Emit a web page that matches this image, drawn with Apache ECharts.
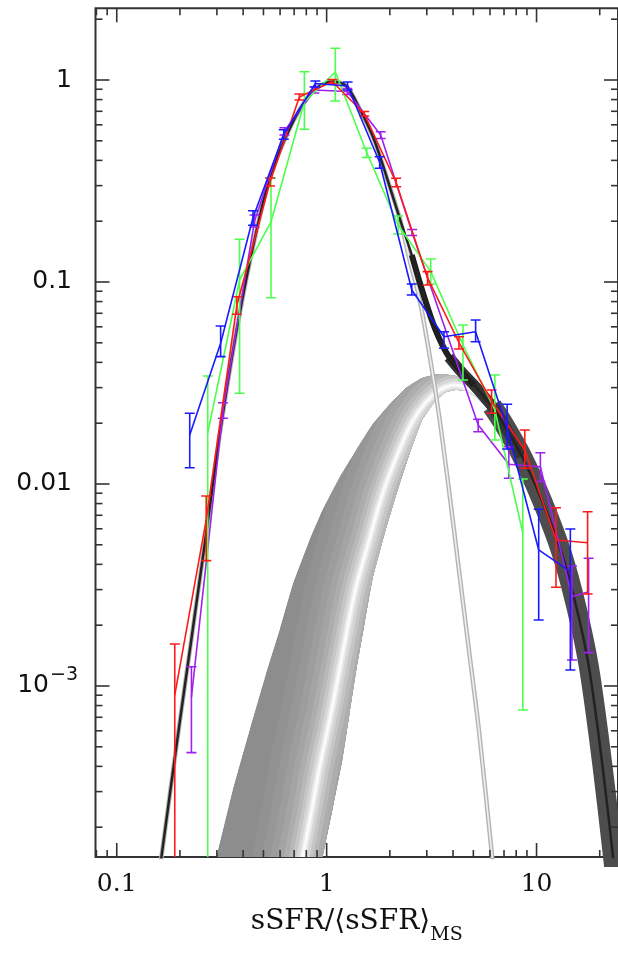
<!DOCTYPE html>
<html><head><meta charset="utf-8">
<script src="https://cdn.jsdelivr.net/npm/echarts@6/dist/echarts.min.js"></script>
<style>html,body{margin:0;padding:0;background:#fff}#c{width:618px;height:965px}</style>
</head><body><div id="c"></div>
<script>
// ---- tick values / labels ----
const xMajorTicks = [0.1, 1, 10];
const xMajorLabels = ['0.1', '1', '10'];
const xMinorTicks = [0.08, 0.09, 0.2, 0.3, 0.4, 0.5, 0.6, 0.7, 0.8, 0.9, 2, 3, 4, 5, 6, 7, 8, 9, 20];
const yMajorTicks = [1, 0.1, 0.01, 0.001];
const yMajorLabels = ['1', '0.1', '0.01', '10^\u22123'];
const yMinorTicks = [2e-4, 3e-4, 4e-4, 5e-4, 6e-4, 7e-4, 8e-4, 9e-4,
  0.002, 0.003, 0.004, 0.005, 0.006, 0.007, 0.008, 0.009,
  0.02, 0.03, 0.04, 0.05, 0.06, 0.07, 0.08, 0.09,
  0.2, 0.3, 0.4, 0.5, 0.6, 0.7, 0.8, 0.9, 2];

// ---- data samples (with error bars) ----
const blueX  = [0.2227, 0.3126, 0.4461, 0.6249, 0.8837, 1.258, 1.789, 2.545, 3.624, 5.126, 7.243, 10.24, 14.49];
const blueY  = [0.01748, 0.04971, 0.2086, 0.5373, 0.9609, 0.9339, 0.3905, 0.09129, 0.05359, 0.05675, 0.01893, 0.004714, 0.003679];
const blueHi = [0.02239, 0.06057, 0.2254, 0.5675, 0.9887, 0.9775, 0.4172, 0.09775, 0.05675, 0.06483, 0.02481, 0.007494, 0.005986];
const blueLo = [0.01204, 0.0427, 0.1911, 0.5086, 0.9233, 0.8923, 0.3655, 0.08624, 0.04696, 0.05062, 0.01491, 0.002121, 0.0012];

const redX  = [0.189, 0.2668, 0.3736, 0.5372, 0.7417, 1.064, 1.51, 2.143, 3.026, 4.269, 6.107, 8.79, 12.38, 17.51];
const redY  = [0.000902, 0.006636, 0.07692, 0.3126, 0.8237, 0.983, 0.6802, 0.3109, 0.1047, 0.05016, 0.02576, 0.01473, 0.005283, 0.005122];
const redHi = [0.001614, 0.008723, 0.08458, 0.3272, 0.8525, 1.006, 0.6983, 0.3261, 0.1125, 0.05359, 0.0292, 0.01851, 0.007631, 0.007292];
const redLo = [0.0001, 0.004173, 0.0692, 0.2987, 0.7962, 0.9554, 0.6633, 0.2963, 0.09663, 0.04659, 0.02239, 0.01196, 0.003081, 0.002853];

const purpleX  = [0.2269, 0.3206, 0.4534, 0.6296, 0.8741, 1.254, 1.809, 2.554, 5.274, 7.379, 10.43, 14.75, 17.7];
const purpleY  = [0.000882, 0.02311, 0.2004, 0.5593, 0.8923, 0.8771, 0.5341, 0.1758, 0.01959, 0.01252, 0.01218, 0.002767, 0.002929];
const purpleHi = [0.001246, 0.02526, 0.2147, 0.5806, 0.9233, 0.9077, 0.5546, 0.1819, 0.02091, 0.0153, 0.01429, 0.003928, 0.004287];
const purpleLo = [0.000468, 0.02114, 0.1872, 0.5341, 0.8623, 0.8479, 0.5133, 0.1699, 0.01815, 0.01067, 0.01027, 0.001345, 0.001462];

const greenX  = [0.2713, 0.3848, 0.5431, 0.7834, 1.1, 1.552, 2.191, 3.133, 4.461, 6.33, 8.6];
const greenY  = [0.01789, 0.1023, 0.1982, 0.7807, 1.095, 0.4377, 0.1915, 0.1125, 0.04876, 0.02324, 0.005721];
const greenHi = [0.03425, 0.1627, 0.3261, 1.099, 1.435, 0.4591, 0.2122, 0.13, 0.06124, 0.03464, 0.01059];
const greenLo = [0.0001, 0.02812, 0.08363, 0.5701, 0.787, 0.4134, 0.1728, 0.09775, 0.03272, 0.01651, 0.000761];

// ---- model curves ----
const totalX = [0.156, 0.1789, 0.1996, 0.2227, 0.2484, 0.2772, 0.3068, 0.3487, 0.3977, 0.4585, 0.5343, 0.6295, 0.7417, 0.8837, 1.064, 1.24, 1.43, 1.685, 1.986, 2.256, 2.545, 2.809, 3.133, 3.43, 3.827, 4.35, 5.032, 6.128, 6.834, 8.505, 10.59, 13.17, 15.52, 17.7, 19.75, 21.56, 23.52];
const totalY = [1.0e-4, 2.886e-4, 6.633e-4, 1.49e-3, 3.348e-3, 7.605e-3, 0.01651, 0.03882, 0.0833, 0.1709, 0.3272, 0.5047, 0.7103, 0.9026, 0.983, 0.9339, 0.7267, 0.5047, 0.3021, 0.1982, 0.136, 0.09555, 0.06709, 0.05282, 0.04254, 0.03625, 0.03091, 0.02432, 0.02051, 0.01376, 0.008331, 0.004553, 0.002432, 0.001271, 0.000572, 0.0002727, 0.0001228];

const msX = [0.156, 0.1789, 0.1996, 0.2227, 0.2484, 0.2772, 0.3068, 0.3487, 0.3977, 0.4585, 0.5343, 0.6295, 0.7417, 0.8837, 1.064, 1.24, 1.43, 1.685, 1.986, 2.256, 2.471, 2.757, 3.075, 3.43, 3.827, 4.269, 4.763, 5.314, 6.147, 6.33];
const msY = [1.0e-4, 2.886e-4, 6.633e-4, 1.49e-3, 3.348e-3, 7.605e-3, 0.01651, 0.03882, 0.0833, 0.1709, 0.3272, 0.5047, 0.7103, 0.9026, 0.983, 0.9339, 0.7267, 0.5047, 0.3021, 0.1982, 0.1315, 0.08428, 0.04502, 0.02196, 0.00934, 0.003752, 0.001507, 0.000605, 1.424e-4, 1.035e-4];

const sbOuterX = [0.2742, 0.2982, 0.3565, 0.4293, 0.5114, 0.5959, 0.6871, 0.8276, 0.9541, 1.149, 1.384, 1.649, 1.986, 2.391, 2.849, 3.43, 4.132, 4.922, 5.929, 6.834];
const sbOuterY = [1.035e-4, 1.424e-4, 3.055e-4, 6.055e-4, 1.133e-3, 1.893e-3, 3.162e-3, 5.283e-3, 7.434e-3, 0.01071, 0.01473, 0.01959, 0.0246, 0.02987, 0.03348, 0.03504, 0.03425, 0.03126, 0.02605, 0.02122];
const sbInnerX = [0.9034, 0.9572, 1.064, 1.187, 1.282, 1.384, 1.51, 1.649, 1.88, 2.143, 2.471, 2.849, 3.32, 3.704, 4.132, 4.61, 5.143, 5.929, 6.834];
const sbInnerY = [1.035e-4, 1.424e-4, 2.432e-4, 4.301e-4, 7.184e-4, 1.2e-3, 2.004e-3, 3.348e-3, 5.592e-3, 8.82e-3, 0.01391, 0.02074, 0.02605, 0.02853, 0.0292, 0.02887, 0.02696, 0.02324, 0.01959];
const sbStripeX = [0.7257, 0.7691, 0.8459, 0.9233, 1.053, 1.187, 1.369, 1.596, 1.839, 2.168, 2.554, 2.976, 3.468, 4.043, 4.66, 5.314];
const sbStripeY = [1.035e-4, 1.424e-4, 2.377e-4, 3.927e-4, 7.434e-4, 1.424e-3, 2.987e-3, 5.283e-3, 8.82e-3, 0.01391, 0.02027, 0.02547, 0.0292, 0.03091, 0.02987, 0.02758];

// ---- helpers ----
const zip = (xs, ys) => xs.map((x, i) => [x, ys[i]]);
const AX = '#333';

function lineSeries(xs, ys, color, width, z, smooth) {
  return { type: 'line', data: zip(xs, ys), showSymbol: false, symbol: 'none', silent: true,
    smooth: smooth || 0, z: z, clip: true,
    lineStyle: { color: color, width: width }, emphasis: { disabled: true } };
}
function errSeries(xs, lo, hi, color, z) {
  return { type: 'custom', silent: true, z: z, clip: true,
    data: xs.map((x, i) => [x, lo[i], hi[i]]),
    encode: { x: 0, y: [1, 2] },
    renderItem: function (params, api) {
      const x = api.value(0);
      const a = api.coord([x, api.value(2)]);
      const b = api.coord([x, api.value(1)]);
      const w = 5, st = { stroke: color, lineWidth: 1.6 };
      return { type: 'group', children: [
        { type: 'line', shape: { x1: a[0], y1: a[1], x2: b[0], y2: b[1] }, style: st },
        { type: 'line', shape: { x1: a[0] - w, y1: a[1], x2: a[0] + w, y2: a[1] }, style: st },
        { type: 'line', shape: { x1: b[0] - w, y1: b[1], x2: b[0] + w, y2: b[1] }, style: st }
      ] };
    } };
}

// shaded starburst band: filled region clipped, with graded strokes along the light ridge
const sbShadeWidths = [100, 80, 64, 50, 38, 28, 20, 13, 7, 3];
const sbShadeColors = ['#929292', '#979797', '#9d9d9d', '#a4a4a4', '#adadad', '#b8b8b8', '#c6c6c6', '#d6d6d6', '#e8e8e8', '#fbfbfb'];
const sbSeries = { type: 'custom', silent: true, z: 1, clip: true, data: [[1, 1]],
  renderItem: function (params, api) {
    const band = [];
    for (let i = 0; i < sbOuterX.length; i++) band.push(api.coord([sbOuterX[i], sbOuterY[i]]));
    for (let i = sbInnerX.length - 1; i >= 0; i--) band.push(api.coord([sbInnerX[i], sbInnerY[i]]));
    const ridge = sbStripeX.map((x, i) => api.coord([x, sbStripeY[i]]));
    const children = [{ type: 'polygon', shape: { points: band, smooth: 0.1 }, style: { fill: '#8d8d8d' } }];
    sbShadeWidths.forEach((w, k) => children.push({ type: 'polyline', shape: { points: ridge, smooth: 0.3 },
      style: { stroke: sbShadeColors[k], lineWidth: w, fill: null, lineJoin: 'round', lineCap: 'round' } }));
    return { type: 'group', children: children,
      clipPath: { type: 'polygon', shape: { points: band, smooth: 0.1 } } };
  } };

const xTickItems = xMajorTicks.map((v, i) => ({ v: v, major: true, label: xMajorLabels[i] }))
  .concat(xMinorTicks.map(v => ({ v: v, major: false })));
const yTickItems = yMajorTicks.map((v, i) => ({ v: v, major: true, label: yMajorLabels[i] }))
  .concat(yMinorTicks.map(v => ({ v: v, major: false })));

const xTickSeries = { type: 'custom', silent: true, z: 20, clip: false,
  data: xTickItems.map(t => [t.v, 1]),
  renderItem: function (params, api) {
    const it = xTickItems[params.dataIndex];
    const cs = params.coordSys;
    const px = api.coord([it.v, 1])[0];
    const len = it.major ? 14 : 7;
    const bot = cs.y + cs.height, top = cs.y;
    const st = { stroke: AX, lineWidth: 1.6 };
    const ch = [
      { type: 'line', shape: { x1: px, y1: bot, x2: px, y2: bot - len }, style: st },
      { type: 'line', shape: { x1: px, y1: top, x2: px, y2: top + len }, style: st }
    ];
    if (it.label) ch.push({ type: 'text', style: { text: it.label, x: px, y: bot + 27,
      font: '25px "DejaVu Serif"', fill: '#111', align: 'center', verticalAlign: 'middle' } });
    return { type: 'group', children: ch };
  } };

const yTickSeries = { type: 'custom', silent: true, z: 20, clip: false,
  data: yTickItems.map(t => [1, t.v]),
  renderItem: function (params, api) {
    const it = yTickItems[params.dataIndex];
    const cs = params.coordSys;
    const py = api.coord([1, it.v])[1];
    const len = it.major ? 14 : 7;
    const l = cs.x, r = cs.x + cs.width;
    const st = { stroke: AX, lineWidth: 1.6 };
    const ch = [
      { type: 'line', shape: { x1: l, y1: py, x2: l + len, y2: py }, style: st },
      { type: 'line', shape: { x1: r, y1: py, x2: r - len, y2: py }, style: st }
    ];
    if (it.label) {
      if (it.label.indexOf('^') >= 0) {
        const parts = it.label.split('^');
        ch.push({ type: 'text', style: { text: parts[0], x: 49, y: py, font: '25px "DejaVu Sans"',
          fill: '#111', align: 'right', verticalAlign: 'middle' } });
        ch.push({ type: 'text', style: { text: parts[1], x: 50, y: py - 11, font: '19px "DejaVu Sans"',
          fill: '#111', align: 'left', verticalAlign: 'middle' } });
      } else {
        ch.push({ type: 'text', style: { text: it.label, x: 72, y: py, font: '25px "DejaVu Sans"',
          fill: '#111', align: 'right', verticalAlign: 'middle' } });
      }
    }
    return { type: 'group', children: ch };
  } };

const chart = echarts.init(document.getElementById('c'), null, { renderer: 'canvas' });
chart.setOption({
  animation: false,
  backgroundColor: '#fff',
  grid: { left: 95.5, top: 8.3, width: 524, height: 848.7, show: true, borderColor: AX, borderWidth: 2, backgroundColor: '#fff' },
  xAxis: { type: 'log', logBase: 10, min: 0.07921, max: 24.44,
    axisLine: { show: false }, axisTick: { show: false }, axisLabel: { show: false }, splitLine: { show: false },
    name: '{a|sSFR/\u27E8sSFR\u27E9}{b|MS}', nameLocation: 'middle', nameGap: 41,
    nameTextStyle: { rich: {
      a: { fontFamily: 'DejaVu Serif', fontSize: 28, color: '#111' },
      b: { fontFamily: 'DejaVu Serif', fontSize: 19, color: '#111', padding: [28, 0, 0, 0] } } } },
  yAxis: { type: 'log', logBase: 10, min: 1.4235e-4, max: 2.2646,
    axisLine: { show: false }, axisTick: { show: false }, axisLabel: { show: false }, splitLine: { show: false } },
  series: [
    sbSeries,
    lineSeries(msX, msY, '#b5b5b5', 4.5, 4, 0.3),
    lineSeries(msX, msY, '#f0f0f0', 1.6, 4, 0.3),
    lineSeries(totalX.slice(27), totalY.slice(27), '#4d4d4d', 20, 5, 0.3),
    lineSeries(totalX.slice(24, 30), totalY.slice(24, 30), '#333', 11, 5, 0.3),
    lineSeries(totalX.slice(20, 27), totalY.slice(20, 27), '#1e1e1e', 6, 5, 0.3),
    lineSeries(totalX, totalY, '#222', 2.5, 6, 0.3),
    lineSeries(purpleX, purpleY, '#a020f0', 1.6, 7),
    errSeries(purpleX, purpleLo, purpleHi, '#a020f0', 7),
    lineSeries(greenX, greenY, '#4cff4c', 1.6, 8),
    errSeries(greenX, greenLo, greenHi, '#4cff4c', 8),
    lineSeries(redX, redY, '#ff1a1a', 1.6, 9),
    errSeries(redX, redLo, redHi, '#ff1a1a', 9),
    lineSeries(blueX, blueY, '#1a1aff', 1.6, 10),
    errSeries(blueX, blueLo, blueHi, '#1a1aff', 10),
    xTickSeries, yTickSeries
  ]
});
</script></body></html>
